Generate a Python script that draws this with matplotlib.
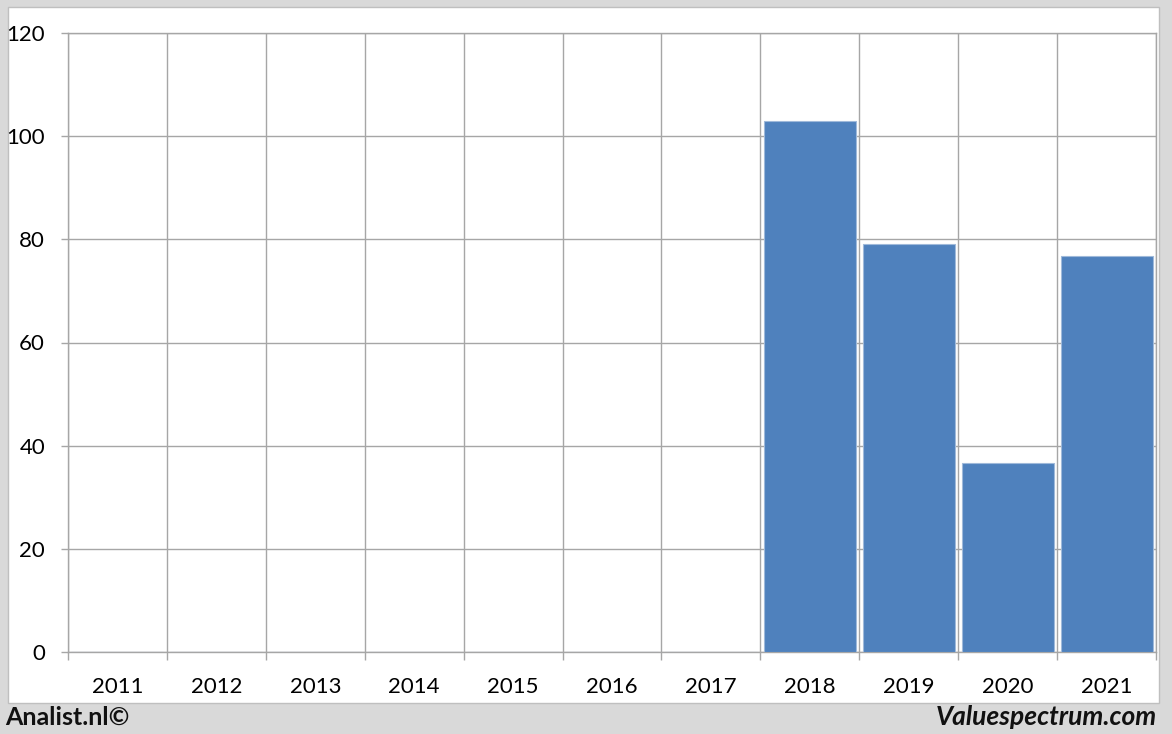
import matplotlib.pyplot as plt
from matplotlib.patches import Rectangle
import numpy as np

years = ['2011', '2012', '2013', '2014', '2015', '2016', '2017', '2018', '2019', '2020', '2021']
values = [0, 0, 0, 0, 0, 0, 0, 103, 79, 36.6, 76.7]

grid_col = '#a6a6a6'
bar_col = '#4f81bd'

plt.rcParams['font.family'] = ['Lato', 'DejaVu Sans']

fig = plt.figure(figsize=(11.72, 7.34), dpi=100)
fig.patch.set_facecolor('#d9d9d9')

# white panel behind the chart
fig.patches.append(Rectangle((8 / 1172, 31 / 734), 1151 / 1172, 696 / 734,
                             transform=fig.transFigure, facecolor='white',
                             edgecolor='#bfbfbf', linewidth=1, zorder=-5))

ax = fig.add_axes([68 / 1172, 82 / 734, 1088 / 1172, 619 / 734], zorder=2)
x = np.arange(len(years))
ax.bar(x, values, width=0.93, color=bar_col, edgecolor='#9fb9da', linewidth=0.8, zorder=3)

ax.set_xlim(-0.5, len(years) - 0.5)
ax.set_ylim(0, 120)
ax.set_yticks(range(0, 121, 20))
ax.set_xticks(x)
ax.set_xticklabels(years)
ax.set_xticks(np.arange(-0.5, len(years), 1), minor=True)

ax.grid(True, axis='y', which='major', color=grid_col, linewidth=1, zorder=0)
ax.grid(True, axis='x', which='minor', color=grid_col, linewidth=1, zorder=0)
ax.set_axisbelow(True)

ax.tick_params(axis='x', which='major', length=0, pad=18, labelsize=16)
ax.tick_params(axis='x', which='minor', length=6, color=grid_col, width=1)
ax.tick_params(axis='y', length=5, color=grid_col, width=1, pad=11.5, labelsize=16)

for s in ax.spines.values():
    s.set_color(grid_col)
    s.set_linewidth(1)

fig.text(5 / 1172, 1 - 717 / 734, 'Analist.nl©', ha='left', va='center',
         fontsize=18, fontweight='bold', color='#111111')
fig.text(1157 / 1172, 1 - 717 / 734, 'Valuespectrum.com', ha='right', va='center',
         fontsize=19, fontweight='bold', fontstyle='italic', color='#111111')

fig.savefig('out.png', dpi=100, facecolor=fig.get_facecolor())
